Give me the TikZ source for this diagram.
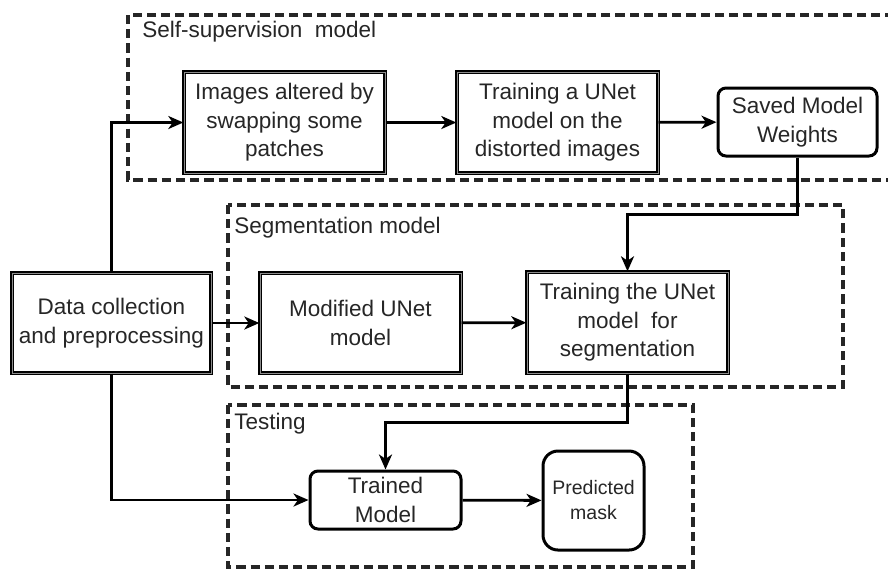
\documentclass[tikz,border=0pt]{standalone}
\usepackage{fontspec}
\setmainfont{Liberation Sans}
\usetikzlibrary{arrows.meta}

\begin{document}
\begin{tikzpicture}[x=0.5pt, y=-0.5pt,
    box/.style={draw, double=black!45, line width=0.7pt, double distance=0.3pt, align=center, inner sep=0pt, text=black!85,
        font=\fontsize{11.25}{14.25}\selectfont},
    rbox/.style={draw, line width=1.5pt, rounded corners=4pt, align=center, inner sep=0pt, text=black!85,
        font=\fontsize{11.25}{14.25}\selectfont},
    arr/.style={-{Stealth[length=7.5pt, width=6.5pt, inset=2.2pt]}, line width=1.4pt},
    frame/.style={draw=black!85, line width=1.7pt, dash pattern=on 4.6pt off 2.5pt},
    lbl/.style={anchor=west, inner sep=0pt, text=black!85, font=\fontsize{11.25}{14.25}\selectfont}]
    \useasboundingbox (0, 0) rectangle (888, 570);
    \fill[white] (0, 0) rectangle (888, 570);

    \draw[frame] (128, 15) rectangle (900, 180);
    \draw[frame] (228, 205) rectangle (843, 387);
    \draw[frame] (228, 405) rectangle (693, 567);
    \node[lbl] (lself) at (142, 32) {Self-supervision\ \ model};
    \node[lbl] (lseg) at (234, 228) {Segmentation model};
    \node[lbl] (ltest) at (234, 424) {Testing};

    \node[box, minimum width=100.5pt, minimum height=50.5pt] (img) at (284.5, 122.5) {Images altered by\\swapping some\\patches};
    \node[box, minimum width=100.5pt, minimum height=50.5pt] (train) at (557.5, 122.5) {Training a UNet\\model on the\\distorted images};
    \node[rbox, minimum width=79.5pt, minimum height=34pt] (saved) at (797.5, 122) {Saved Model\\Weights};
    \node[box, minimum width=99.5pt, minimum height=50pt] (data) at (111.5, 323) {Data collection\\and preprocessing};
    \node[box, minimum width=100.5pt, minimum height=50pt] (modnet) at (360.5, 323) {Modified UNet\\model};
    \node[box, minimum width=100.5pt, minimum height=50.5pt] (segtrain) at (627.5, 322.5) {Training the UNet\\model\ \ for\\segmentation};
    \node[rbox, minimum width=75.5pt, minimum height=29pt] (trained) at (385.5, 500) {Trained\\Model};
    \node[rbox, rounded corners=7.5pt, minimum width=50.5pt, minimum height=49.5pt,
        font=\fontsize{9.75}{12.5}\selectfont] (pred) at (593.5, 500.5) {Predicted\\mask};

    \draw[arr] (data.north) |- (img.west);
    \draw[arr] (img) -- (train);
    \draw[arr] (train) -- (saved);
    \draw[arr] (saved.south) -- ++(0, 57) -| (segtrain.north);
    \draw[arr] (data) -- (modnet);
    \draw[arr] (modnet) -- (segtrain);
    \draw[arr] (segtrain.south) -- ++(0, 49) -| (trained.north);
    \draw[arr] (data.south) |- (trained.west);
    \draw[arr] (trained) -- (pred);
\end{tikzpicture}
\end{document}
